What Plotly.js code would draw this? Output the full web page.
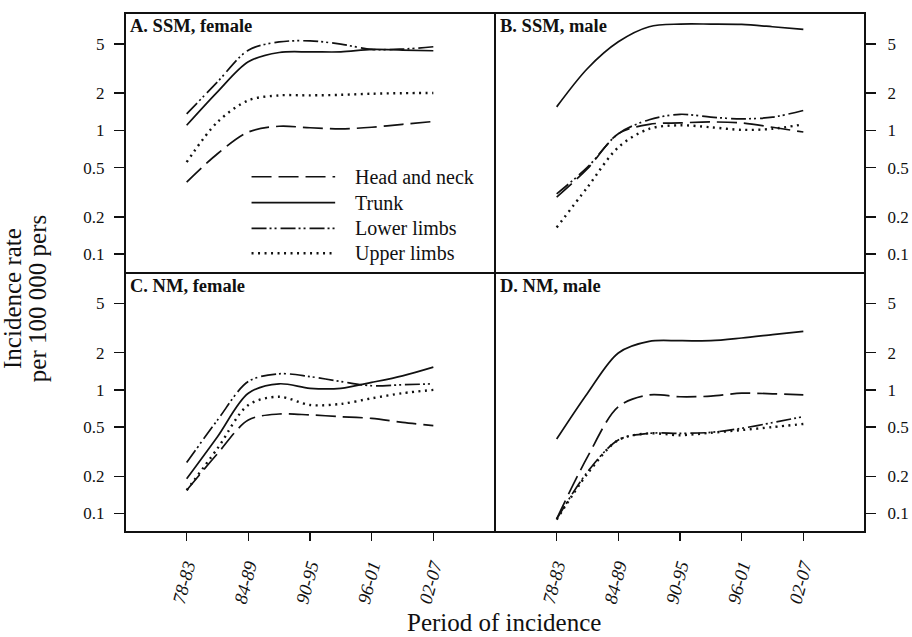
<!DOCTYPE html>
<html>
<head>
<meta charset="utf-8">
<script src="https://cdn.plot.ly/plotly-3.0.1.min.js"></script>
<style>html,body{margin:0;padding:0;background:#fff;}#chart{width:912px;height:637px;}</style>
</head>
<body>
<div id="chart"></div>
<script>
// Period midpoints (years) at which values were read, every 3 years
const years = [1980.5, 1983.5, 1986.5, 1989.5, 1992.5, 1995.5, 1998.5, 2001.5, 2004.5];
const tickYears = [1980.5, 1986.5, 1992.5, 1998.5, 2004.5];
const periodLabels = ['78-83', '84-89', '90-95', '96-01', '02-07'];
const yTickVals = [0.1, 0.2, 0.5, 1, 2, 5];
const yTickText = ['0.1', '0.2', '0.5', '1', '2', '5'];
const siteNames = ['Head and neck', 'Trunk', 'Lower limbs', 'Upper limbs'];
const panelTitles = ['A. SSM, female', 'B. SSM, male', 'C. NM, female', 'D. NM, male'];

// A. SSM, female
const ssmFemaleHead  = [0.381, 0.647, 0.97, 1.08, 1.05, 1.03, 1.06, 1.12, 1.18];
const ssmFemaleTrunk = [1.10, 2.05, 3.59, 4.27, 4.32, 4.32, 4.52, 4.47, 4.41];
const ssmFemaleLower = [1.36, 2.47, 4.46, 5.2, 5.3, 4.99, 4.52, 4.55, 4.75];
const ssmFemaleUpper = [0.553, 1.17, 1.75, 1.92, 1.92, 1.94, 1.98, 2.0, 2.01];
// B. SSM, male
const ssmMaleHead  = [0.288, 0.49, 0.94, 1.12, 1.15, 1.17, 1.15, 1.06, 0.97];
const ssmMaleTrunk = [1.55, 3.17, 5.21, 6.9, 7.25, 7.25, 7.2, 6.9, 6.56];
const ssmMaleLower = [0.306, 0.504, 0.94, 1.22, 1.35, 1.28, 1.24, 1.28, 1.45];
const ssmMaleUpper = [0.164, 0.347, 0.73, 1.03, 1.10, 1.06, 1.01, 1.03, 1.12];
// C. NM, female
const nmFemaleHead  = [0.154, 0.305, 0.57, 0.638, 0.627, 0.607, 0.588, 0.546, 0.513];
const nmFemaleTrunk = [0.191, 0.418, 0.94, 1.12, 1.03, 1.03, 1.15, 1.30, 1.53];
const nmFemaleLower = [0.258, 0.57, 1.17, 1.35, 1.28, 1.17, 1.08, 1.10, 1.12];
const nmFemaleUpper = [0.154, 0.336, 0.755, 0.88, 0.755, 0.77, 0.855, 0.94, 1.0];
// D. NM, male
const nmMaleHead  = [0.0905, 0.287, 0.73, 0.91, 0.88, 0.89, 0.94, 0.93, 0.91];
const nmMaleTrunk = [0.40, 0.94, 1.99, 2.47, 2.5, 2.5, 2.63, 2.8, 2.98];
const nmMaleLower = [0.09, 0.217, 0.393, 0.445, 0.445, 0.453, 0.489, 0.543, 0.608];
const nmMaleUpper = [0.089, 0.21, 0.393, 0.445, 0.43, 0.45, 0.473, 0.50, 0.53];

const panels = [
  [ssmFemaleHead, ssmFemaleTrunk, ssmFemaleLower, ssmFemaleUpper],
  [ssmMaleHead, ssmMaleTrunk, ssmMaleLower, ssmMaleUpper],
  [nmFemaleHead, nmFemaleTrunk, nmFemaleLower, nmFemaleUpper],
  [nmMaleHead, nmMaleTrunk, nmMaleLower, nmMaleUpper]
];

const FONT = '"Liberation Serif", "Times New Roman", Times, serif';
const dashes = ['20px,7px', 'solid', '15px,3px,2px,3px,2px,4px', '2px,4.5px'];
const widths = [1.7, 1.7, 1.7, 2.4];

const traces = [];
panels.forEach((series, p) => {
  const suf = p === 0 ? '' : String(p + 1);
  series.forEach((vals, s) => {
    traces.push({
      type: 'scatter', mode: 'lines',
      x: years, y: vals, name: siteNames[s],
      xaxis: 'x' + suf, yaxis: 'y' + suf,
      line: {color: '#111', width: widths[s], dash: dashes[s], shape: 'spline', smoothing: 0.9},
      showlegend: false, hoverinfo: 'skip'
    });
  });
});

function xax(dom, anchor, showLabels) {
  return {
    domain: dom, anchor: anchor, range: [1974.5, 2010.5],
    showline: true, mirror: true, linecolor: '#111', linewidth: 1,
    showgrid: false, zeroline: false, fixedrange: true,
    tickmode: 'array', tickvals: tickYears, ticktext: periodLabels,
    ticks: showLabels ? 'outside' : '', ticklen: 8, tickwidth: 1.5, tickcolor: '#111',
    showticklabels: showLabels, tickangle: -75, ticklabelstandoff: 7,
    tickfont: {family: FONT, size: 18.5, color: '#111', style: 'italic'}
  };
}
function yax(dom, anchor, side) {
  return {
    domain: dom, anchor: anchor, side: side, type: 'log', range: [-1.15, 0.95],
    showline: true, mirror: true, linecolor: '#111', linewidth: 1,
    showgrid: false, zeroline: false, fixedrange: true,
    tickmode: 'array', tickvals: yTickVals, ticktext: yTickText,
    ticks: 'outside', ticklen: 10, tickwidth: 1.5, tickcolor: '#111',
    ticklabelstandoff: side === 'left' ? 6 : 8,
    tickfont: {family: FONT, size: 17, color: '#111'}
  };
}

const annotations = [];
const axSuf = ['', '2', '3', '4'];
panelTitles.forEach((t, i) => {
  annotations.push({
    text: '<b>' + t + '</b>', xref: 'x' + axSuf[i] + ' domain', yref: 'y' + axSuf[i] + ' domain',
    x: 0.008, y: 0.995, xanchor: 'left', yanchor: 'top', showarrow: false,
    font: {family: FONT, size: 18.5, color: '#111'}
  });
});

// custom legend inside panel A
const legendRows = [0.369, 0.269, 0.170, 0.074];
const shapes = [{
  type: 'rect', xref: 'paper', yref: 'paper', x0: 0, x1: 1, y0: 0, y1: 1,
  line: {color: '#111', width: 2}, fillcolor: 'rgba(0,0,0,0)'
}];
siteNames.forEach((n, i) => {
  shapes.push({
    type: 'line', xref: 'x domain', yref: 'y domain',
    x0: 0.342, x1: 0.568, y0: legendRows[i], y1: legendRows[i],
    line: {color: '#111', width: widths[i], dash: dashes[i]}
  });
  annotations.push({
    text: n, xref: 'x domain', yref: 'y domain', x: 0.617, y: legendRows[i],
    xanchor: 'left', yanchor: 'middle', showarrow: false,
    font: {family: FONT, size: 20, color: '#111'}
  });
});

// axis titles
annotations.push({
  text: 'Period of incidence', xref: 'paper', yref: 'paper', x: 0.512, y: -0.174,
  xanchor: 'center', yanchor: 'middle', showarrow: false,
  font: {family: FONT, size: 25, color: '#111'}
});
annotations.push({
  text: 'Incidence rate', xref: 'paper', yref: 'paper', x: -0.152, y: 0.45,
  xanchor: 'center', yanchor: 'middle', textangle: -90, showarrow: false,
  font: {family: FONT, size: 25, color: '#111'}
});
annotations.push({
  text: 'per 100 000 pers', xref: 'paper', yref: 'paper', x: -0.118, y: 0.45,
  xanchor: 'center', yanchor: 'middle', textangle: -90, showarrow: false,
  font: {family: FONT, size: 25, color: '#111'}
});

const layout = {
  width: 912, height: 637,
  margin: {l: 125, r: 47, t: 13, b: 105},
  paper_bgcolor: '#fff', plot_bgcolor: '#fff',
  font: {family: FONT, color: '#111'},
  showlegend: false,
  xaxis: xax([0, 0.5], 'y', false),
  yaxis: yax([0.5, 1], 'x', 'left'),
  xaxis2: xax([0.5, 1], 'y2', false),
  yaxis2: yax([0.5, 1], 'x2', 'right'),
  xaxis3: xax([0, 0.5], 'y3', true),
  yaxis3: yax([0, 0.5], 'x3', 'left'),
  xaxis4: xax([0.5, 1], 'y4', true),
  yaxis4: yax([0, 0.5], 'x4', 'right'),
  annotations: annotations,
  shapes: shapes
};

Plotly.newPlot('chart', traces, layout, {displayModeBar: false, staticPlot: true});
</script>
</body>
</html>
